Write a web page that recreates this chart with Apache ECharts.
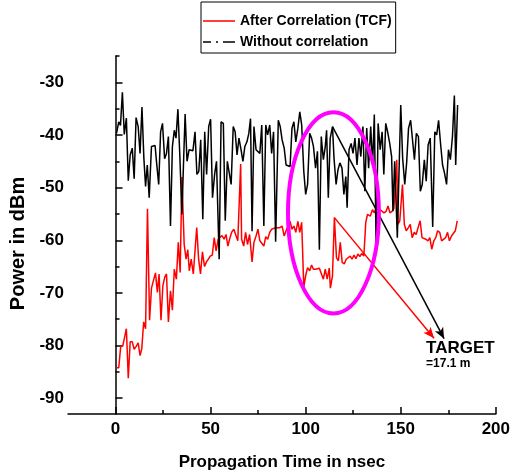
<!DOCTYPE html>
<html>
<head>
<meta charset="utf-8">
<script src="https://cdn.jsdelivr.net/npm/echarts@6/dist/echarts.min.js"></script>
<style>
html,body{margin:0;padding:0;background:#fff;overflow:hidden;}
#chart{width:513px;height:476px;}
</style>
</head>
<body>
<div id="chart"></div>
<script>
// ---- Data ----
const tcfTime = [0.5,1.7,2.7,3.8,4.8,5.7,6.7,7.7,8.8,9.8,10.8,11.9,12.9,13.8,14.8,15.8,16.8,17.9,18.9,19.9,21,22,22.9,23.9,24.9,25.9,26.8,27.8,28.9,29.9,30.9,32,33,34,34.9,36.1,37.1,38,38.8,39.8,40.9,41.8,42.7,43.7,44.7,45.7,46.8,47.8,48.8,49.8,50.9,51.9,52.9,54,55,56,57.1,58.1,59.1,60.2,61.2,62.2,63.2,64.3,65.8,66.3,67.4,68.4,69.4,70.5,71.8,72.8,73.9,74.9,75.9,76.9,78,79,80,81.1,82.1,83.1,84.2,85.2,86.4,87.6,88.7,89.7,90.7,91.8,92.8,93.8,94.8,95.9,96.9,97.9,99,100,101,102.1,103.1,104.1,105.2,106.2,107.2,108.2,109.3,110.3,111.3,112.4,113,114.1,115.1,116.2,117.2,118.2,119.2,120.3,121.3,122.3,123.4,124.4,125.4,126.4,127.5,128.5,129.5,130.6,131.6,132.5,133,134,135.1,136.1,137.1,138.1,139.2,140.2,141.2,142.3,143.3,144.3,145.4,146.4,147.9,148.5,149.5,150.9,151.9,152.9,154,155,156,157.1,158.1,159.1,160.2,161.2,162.2,163.2,164.3,165.3,166.3,167.4,168.4,169.4,170.5,171.5,172.5,173.6,174.6,175.6,176.7,177.7,178.7,179.7];
const tcfPower = [-84.2,-84.2,-80.2,-80.1,-80.1,-76.8,-86.2,-79.3,-79.3,-80.7,-80.2,-79.5,-81.9,-80.6,-75.5,-76.8,-54,-75.2,-69.1,-68.9,-66.2,-69.9,-66.4,-75.2,-68.6,-67,-66.4,-75.5,-69.6,-73.3,-65.5,-67.4,-60.4,-66.1,-48,-60.8,-63.6,-61.8,-65.8,-63.6,-66.4,-62,-57.6,-63.6,-66.4,-62.2,-65,-64.1,-63.6,-63,-62.8,-59.5,-62,-59.8,-60.1,-59.1,-59.8,-58.9,-61.1,-59.5,-58.4,-57.9,-57.6,-60.1,-45.5,-59.8,-61.1,-58.5,-60.8,-58.9,-64.1,-60.4,-59.2,-57.9,-60.1,-59.8,-61.1,-59.3,-59.8,-58.5,-57.9,-58.2,-57.6,-57.3,-57.6,-57.3,-59.2,-58.2,-57.9,-56.4,-57.9,-57.3,-58.5,-56.4,-58.5,-56.6,-68.9,-66.7,-65.2,-65.8,-64.7,-65.5,-65.5,-65.6,-65.3,-65.5,-67.4,-65.5,-67.4,-65.3,-69.1,-66.7,-55.7,-63.3,-63.9,-60.4,-64.2,-64.5,-63.6,-63.9,-63,-63.6,-62.8,-63.5,-62.6,-63.1,-62.5,-63,-56.6,-55.1,-54.8,-55.4,-54.2,-54.8,-53.8,-54.8,-54.2,-54.5,-54.8,-54.5,-53.5,-54.8,-54.5,-54,-44.7,-57,-56.3,-49.4,-57,-58.2,-57.6,-57,-59.5,-58.5,-58.9,-57.6,-56.3,-59.5,-59.8,-59.8,-60.1,-59.5,-61.7,-60.1,-59.5,-58.2,-58.5,-60.1,-60.4,-59.5,-58.5,-60.1,-59.2,-58.9,-58.2,-56.3];

const rawTime = [0.5,1.7,2.6,3.6,4.6,5.7,6.7,7.7,8.8,9.8,10.8,11.9,12.9,13.9,14.9,15.8,16.7,17.7,18.9,19.9,20.8,21.6,22.7,23.7,24.7,25.8,26.8,27.8,28.9,29.9,30.9,31.8,32.8,33.8,34.9,35.7,36.6,37.6,38.7,39.7,40.7,41.8,42.8,43.8,44.8,45.9,46.9,47.9,49,50,51,52.1,53.1,54.5,55.5,56.7,57.7,58.8,59.8,60.8,61.9,62.9,63.9,64.9,66,67,68,69.1,70.1,71,71.8,72.8,73.9,74.9,75.9,76.9,78,79,80,81.1,82.1,83.1,84.2,85.6,86.6,87.6,88.7,89.7,90.7,91.8,92.8,93.8,94.8,95.9,96.9,97.9,99,100,101,102.1,103.1,104.1,105.2,106.2,107.2,108.2,109.3,110.3,111,111.9,112.9,114.1,114.9,116,117,118,119.1,120.1,121.1,121.8,122.8,123.9,124.9,125.9,127,128,129,130.1,131.1,132.1,133.1,134.2,135.2,136.1,137.1,138.1,139.2,140.2,141.1,142.1,143.1,144.2,145.2,145.9,146.8,148.2,150,151,152.1,153.1,154.1,155.2,156.2,157.2,158.2,159.3,160.3,161.3,162.4,163.4,164.4,165.5,166.8,167.9,168.9,169.9,171,172,173,174.1,175.1,176.1,177.2,178.2,178.9,179.9];
const rawPower = [-39.7,-37.5,-38.2,-31.9,-39.9,-36.8,-48.7,-43.8,-42.5,-48.3,-36.7,-38.4,-43.5,-34.7,-44.4,-49.8,-45.7,-51.9,-42.2,-41.9,-42,-45.3,-49.4,-39.4,-37.8,-44.5,-43.5,-40.3,-57.3,-42.2,-39.1,-40.6,-35.1,-43.8,-55.1,-46,-36,-45,-42.8,-43.1,-43,-39.4,-47.5,-46.9,-40.9,-56,-39.4,-47.5,-38.4,-37,-51.9,-47.5,-45,-63.6,-37.5,-37.8,-56.3,-45,-45.3,-49.4,-38.4,-39.4,-43.8,-40.6,-42.8,-45,-42.2,-41.3,-39.7,-36.9,-58.3,-38.4,-42.8,-43.1,-43.5,-38.1,-57.3,-38.1,-40,-38.1,-43.5,-39.4,-60.3,-37.2,-38.4,-40.9,-42.5,-45.7,-46,-46,-38.7,-37.5,-41.3,-38.7,-35.6,-38.1,-46.9,-51.3,-49.4,-39.7,-40.6,-42.2,-46.3,-43.1,-61.8,-40.3,-44.7,-42.2,-39.1,-51.9,-40.6,-38.4,-44.4,-49.4,-46.6,-45.3,-46.3,-51.3,-47.9,-53.8,-42.8,-41.6,-43.5,-40.6,-45.7,-40.6,-44.1,-38.4,-50.7,-38.7,-46.3,-38.4,-45.7,-36.1,-62.5,-37.8,-42.8,-39.4,-47.5,-37.8,-39.4,-41.6,-44.1,-54.5,-45,-59.5,-34.3,-44.4,-49.4,-45.3,-38.7,-37.2,-36.9,-44.7,-39.7,-40.3,-50.7,-49.4,-44.7,-48.8,-41.9,-40.6,-57.5,-39.4,-40,-37.2,-41.9,-45.7,-47.2,-49.4,-42.8,-44.7,-40.3,-32.5,-45.7,-34.3];

const xMajorTicks = [0, 50, 100, 150, 200];
const xMinorTicks = [25, 75, 125, 175];
const yMajorTicks = [-90, -80, -70, -60, -50, -40, -30];
const yMinorTicks = [-85, -75, -65, -55, -45, -35, -25];

// annotations (data coordinates)
const redArrow = [[115.1, -55.7], [167.5, -78.6]];
const blackArrow = [[114.1, -38.4], [172.8, -78.7]];
const ellipseCenter = [114.6, -54.8];
const ellipseRadii = [23.9, 19.1];
const targetPos = [163.3, -80.6];
const distPos = [163.3, -83.4];

const FONT = "'Liberation Sans', Arial, Helvetica, sans-serif";
const tcfData = tcfTime.map((t, i) => [t, tcfPower[i]]);
const rawData = rawTime.map((t, i) => [t, rawPower[i]]);

// legend icons: line samples (zero-area first subpath keeps the 32x14 box)
const solidIcon = 'path://M0,0L0,14ZM32,0L32,14ZM0,6.25h32v1.5h-32z';
const dashDotIcon = 'path://M0,0L0,14ZM32,0L32,14ZM0,6.25h8v1.5h-8zM13,6.25h2v1.5h-2zM20,6.25h12v1.5h-12z';

const chart = echarts.init(document.getElementById('chart'), null, {renderer: 'canvas'});
const axisLineStyle = {color: '#000', width: 1.5};
const commonX = {type: 'value', min: -25, max: 200, splitLine: {show: false}};
const commonY = {type: 'value', min: -93, max: -25, splitLine: {show: false}};

chart.setOption({
  animation: false,
  backgroundColor: '#fff',
  grid: {left: 66, right: 11, top: 56, bottom: 59, containLabel: false},
  legend: {
    orient: 'vertical',
    left: 201, top: 2,
    padding: [12, 4, 4, 2],
    itemWidth: 32, itemHeight: 14, itemGap: 7,
    borderColor: '#000', borderWidth: 1,
    textStyle: {fontFamily: FONT, fontWeight: 'bold', fontSize: 14, color: '#000'},
    data: [
      {name: 'After Correlation (TCF)', icon: solidIcon, itemStyle: {color: '#ff0000'}},
      {name: 'Without correlation', icon: dashDotIcon, itemStyle: {color: '#000'}}
    ]
  },
  xAxis: [
    Object.assign({}, commonX, {
      position: 'bottom',
      name: 'Propagation Time in nsec', nameLocation: 'middle', nameGap: 40,
      nameTextStyle: {fontFamily: FONT, fontWeight: 'bold', fontSize: 17, color: '#000'},
      axisLine: {show: true, lineStyle: axisLineStyle},
      axisTick: {show: true, inside: true, length: 7, lineStyle: axisLineStyle, customValues: xMajorTicks},
      axisLabel: {show: true, margin: 7, customValues: xMajorTicks, fontFamily: FONT, fontWeight: 'bold', fontSize: 17, color: '#000', showMinLabel: true, showMaxLabel: true}
    }),
    Object.assign({}, commonX, {
      position: 'bottom',
      axisLine: {show: false},
      axisTick: {show: true, inside: true, length: 4, lineStyle: axisLineStyle, customValues: xMinorTicks},
      axisLabel: {show: false}
    })
  ],
  yAxis: [
    Object.assign({}, commonY, {
      position: 'left',
      name: 'Power in dBm', nameLocation: 'middle', nameGap: 40,
      nameTextStyle: {fontFamily: FONT, fontWeight: 'bold', fontSize: 20, color: '#000', padding: [0, 17, 0, 0]},
      axisLine: {show: true, lineStyle: axisLineStyle},
      axisTick: {show: true, inside: true, length: 7, lineStyle: axisLineStyle, customValues: yMajorTicks},
      axisLabel: {show: true, margin: 4, customValues: yMajorTicks, fontFamily: FONT, fontWeight: 'bold', fontSize: 17, color: '#000'}
    }),
    Object.assign({}, commonY, {
      position: 'left',
      axisLine: {show: false},
      axisTick: {show: true, inside: true, length: 4, lineStyle: axisLineStyle, customValues: yMinorTicks},
      axisLabel: {show: false}
    })
  ],
  series: [
    {
      name: 'After Correlation (TCF)', type: 'line', data: tcfData,
      xAxisIndex: 0, yAxisIndex: 0,
      symbol: 'none', showSymbol: false,
      lineStyle: {color: '#ff0000', width: 1.5},
      itemStyle: {color: '#ff0000'},
      markLine: {
        silent: true, animation: false,
        symbol: ['none', 'arrow'], symbolSize: [7, 11],
        lineStyle: {color: '#ff0000', width: 1.5, type: 'solid'},
        label: {show: false},
        data: [[{coord: redArrow[0]}, {coord: redArrow[1]}]]
      }
    },
    {
      name: 'Without correlation', type: 'line', data: rawData,
      xAxisIndex: 0, yAxisIndex: 0,
      symbol: 'none', showSymbol: false,
      lineStyle: {color: '#000', width: 1.5},
      itemStyle: {color: '#000'},
      markLine: {
        silent: true, animation: false,
        symbol: ['none', 'arrow'], symbolSize: [7, 11],
        lineStyle: {color: '#000', width: 1.5, type: 'solid'},
        label: {show: false},
        data: [[{coord: blackArrow[0]}, {coord: blackArrow[1]}]]
      }
    }
  ]
});

function px(p) { return chart.convertToPixel({xAxisIndex: 0, yAxisIndex: 0}, p); }
const c = px(ellipseCenter);
const e = px([ellipseCenter[0] + ellipseRadii[0], ellipseCenter[1] + ellipseRadii[1]]);
const tp = px(targetPos);
const dp = px(distPos);
chart.setOption({
  graphic: [
    {type: 'ellipse', silent: true, z: 100,
     shape: {cx: c[0], cy: c[1], rx: Math.abs(e[0] - c[0]), ry: Math.abs(c[1] - e[1])},
     style: {fill: 'none', stroke: '#ff00ff', lineWidth: 4}},
    {type: 'text', silent: true, z: 100, x: tp[0], y: tp[1],
     style: {text: 'TARGET', fill: '#000', font: 'bold 17px ' + FONT, align: 'left', verticalAlign: 'middle'}},
    {type: 'text', silent: true, z: 100, x: dp[0], y: dp[1],
     style: {text: '=17.1 m', fill: '#000', font: 'bold 12px ' + FONT, align: 'left', verticalAlign: 'middle'}}
  ]
});
</script>
</body>
</html>
